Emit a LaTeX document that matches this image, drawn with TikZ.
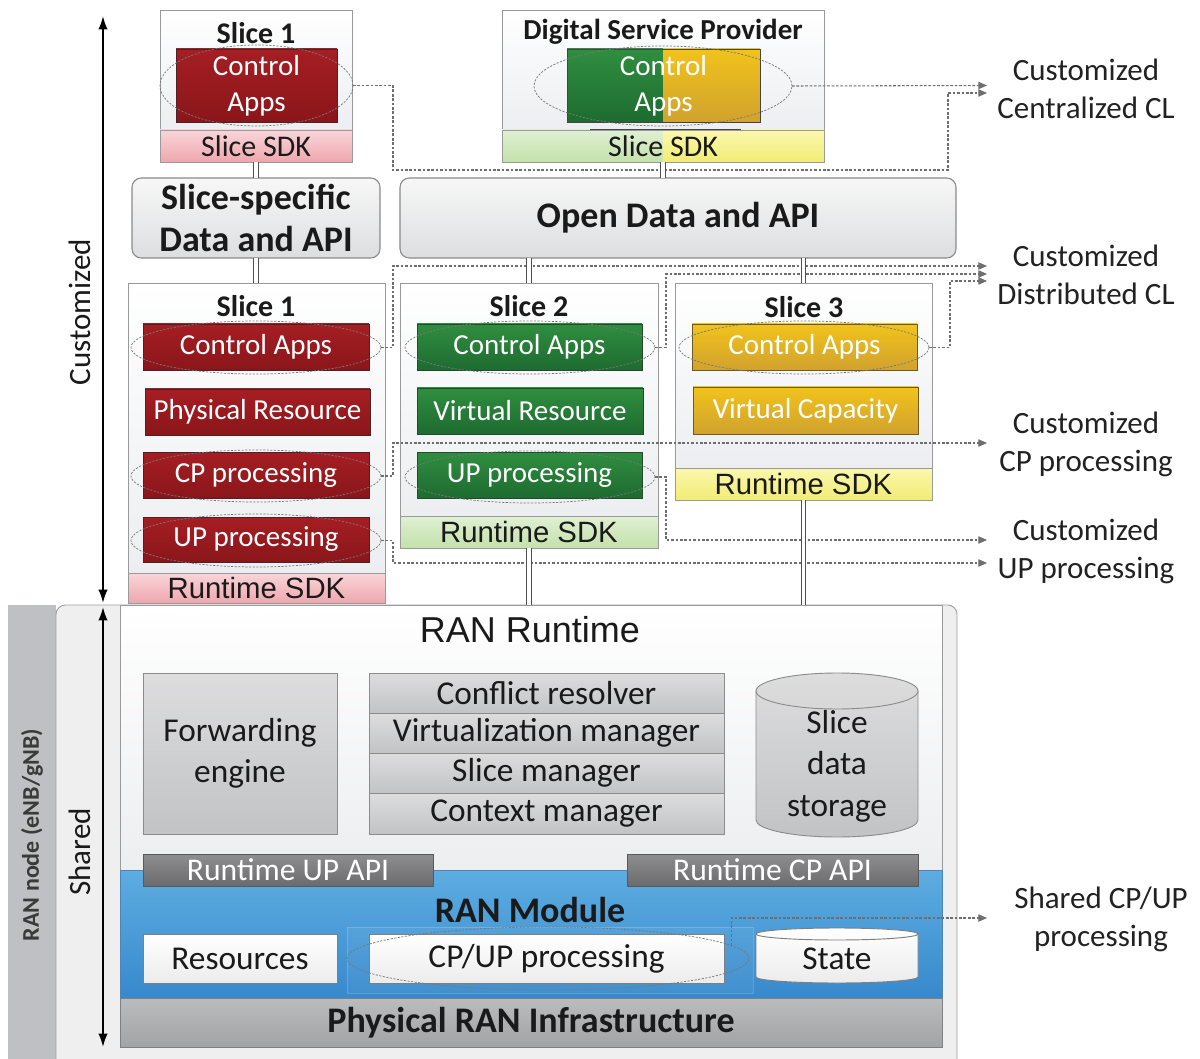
\documentclass[tikz,border=0pt]{standalone}
\usepackage{fontspec}
\setmainfont{Carlito}
\newfontfamily\arialf{Liberation Sans}
\usetikzlibrary{shapes.geometric,arrows.meta}
\newcommand{\fs}[2]{\fontsize{#1}{#2}\selectfont}
\newcommand{\bx}[7][]{%
  \pgfmathsetmacro\bxw{0.75*(#5-#3)}%
  \pgfmathsetmacro\bxh{0.75*(#6-#4)}%
  \node[bxs,#1,minimum width=\bxw pt,minimum height=\bxh pt] (#2) at ({(#3+#5)/2},{(#4+#6)/2}) {#7};}
\definecolor{txt}{HTML}{1A1A1A}
\definecolor{bordg}{HTML}{9A9A9A}
\definecolor{sliceB}{HTML}{ECEEF1}
\definecolor{redT}{HTML}{A51E23}
\definecolor{redB}{HTML}{8A161A}
\definecolor{redD}{HTML}{4E2224}
\definecolor{grnT}{HTML}{2F8E40}
\definecolor{grnB}{HTML}{1E6B30}
\definecolor{grnD}{HTML}{244A2B}
\definecolor{ylwT}{HTML}{F1C31B}
\definecolor{ylwB}{HTML}{D1A22E}
\definecolor{ylwD}{HTML}{6E5A22}
\definecolor{pinkT}{HTML}{F9D5D9}
\definecolor{pinkB}{HTML}{EEA7AE}
\definecolor{lgrnT}{HTML}{DFF0D3}
\definecolor{lgrnB}{HTML}{C4E1AB}
\definecolor{lylwT}{HTML}{FBF8AE}
\definecolor{lylwB}{HTML}{F1EC74}
\definecolor{apiT}{HTML}{F7F7F7}
\definecolor{apiB}{HTML}{DDDEE0}
\definecolor{apiD}{HTML}{8A8A8A}
\definecolor{gblkT}{HTML}{DDDDDE}
\definecolor{gblkB}{HTML}{C2C3C5}
\definecolor{gblkD}{HTML}{8C8C8C}
\definecolor{dapiT}{HTML}{8E8E91}
\definecolor{dapiB}{HTML}{6B6B6E}
\definecolor{dapiD}{HTML}{5A5A5A}
\definecolor{bluT}{HTML}{5DADE2}
\definecolor{bluB}{HTML}{3889CC}
\definecolor{bluD}{HTML}{4A86B8}
\definecolor{infT}{HTML}{BBBCBE}
\definecolor{infB}{HTML}{A2A3A5}
\definecolor{infD}{HTML}{808080}
\definecolor{band}{HTML}{BFC0C3}
\definecolor{outerF}{HTML}{EFEFF0}
\definecolor{outerD}{HTML}{A0A0A0}
\definecolor{rtB}{HTML}{EDEEF0}
\definecolor{dotc}{HTML}{6E6E6E}
\definecolor{ellc}{HTML}{787878}
\definecolor{dblc}{HTML}{505050}
\definecolor{labc}{HTML}{222222}
\definecolor{ranT}{HTML}{3A3A3A}
\definecolor{wbB}{HTML}{ECECEC}
\definecolor{wbD}{HTML}{7F7F7F}
\definecolor{ctrD}{HTML}{444444}
\begin{document}
\begin{tikzpicture}[x=0.75pt,y=-0.75pt,
  every node/.style={text=txt},
  bxs/.style={inner sep=0pt, outer sep=0pt, align=center},
  slicebox/.style={draw=bordg, line width=0.7pt, top color=white, bottom color=sliceB},
  whtxt/.style={text=white, font=\fs{21.75}{27}},
  redbx/.style={draw=redD, line width=0.7pt, top color=redT, bottom color=redB, whtxt},
  grnbx/.style={draw=grnD, line width=0.7pt, top color=grnT, bottom color=grnB, whtxt},
  ylwbx/.style={draw=ylwD, line width=0.7pt, top color=ylwT, bottom color=ylwB, whtxt},
  sdkfont/.style={font=\arialf\fs{22}{26}},
  pinksdk/.style={draw=bordg, line width=0.7pt, top color=pinkT, bottom color=pinkB},
  lgrnsdk/.style={draw=bordg, line width=0.7pt, top color=lgrnT, bottom color=lgrnB},
  lylwsdk/.style={draw=bordg, line width=0.7pt, top color=lylwT, bottom color=lylwB},
  title/.style={font=\bfseries\fs{22.5}{27}},
  apibox/.style={draw=apiD, line width=0.8pt, rounded corners=7pt, top color=apiT, bottom color=apiB, font=\bfseries\fs{27}{32}},
  gblk/.style={draw=gblkD, line width=0.7pt, top color=gblkT, bottom color=gblkB, font=\fs{25}{31}},
  dapi/.style={draw=dapiD, line width=0.7pt, top color=dapiT, bottom color=dapiB, text=white, font=\fs{23.7}{28}},
  wbx/.style={draw=wbD, line width=0.7pt, top color=white, bottom color=wbB, font=\fs{25}{30}},
  ell/.style={ellipse, draw=ellc, dash pattern=on 1.6pt off 1.1pt, line width=0.55pt},
  dl/.style={draw=dotc, line width=0.8pt, dash pattern=on 2pt off 1.3pt, -{Triangle[length=6.5pt,width=5.5pt]}},
  dbl/.style={draw=dblc, line width=0.9pt, double=white, double distance=2.4pt},
  lab/.style={font=\fs{23.25}{28.5}, align=center, text=labc},
  bigar/.style={line width=1.4pt, {Latex[length=10pt,width=7pt]}-{Latex[length=10pt,width=7pt]}},
]
\useasboundingbox (0,0) rectangle (1200,1059);
\clip (0,0) rectangle (1200,1059);
\fill[white] (0,0) rectangle (1200,1059);

% ---------- lower shared part ----------
\fill[band] (8,605) rectangle (56,1070);
\node[rotate=90, font=\bfseries\fs{18}{22}, text=ranT] (rann) at (32,835) {RAN node (eNB/gNB)};
\bx[draw=outerD, fill=outerF, rounded corners=7pt, line width=0.7pt]{ranode}{56}{605}{957}{1075}{}
\bx[draw=bordg, top color=white, bottom color=rtB, line width=0.7pt]{rt}{120}{605}{942}{870}{}
\node[font=\arialf\fs{27}{30}] (rttitle) at (530,630) {RAN Runtime};
\bx[draw=bluD, top color=bluT, bottom color=bluB, line width=0.7pt]{ranmod}{120}{870}{942}{998}{}
\node[font=\bfseries\fs{27}{30}] (rmtitle) at (530,910) {RAN Module};
\bx[draw=infD, top color=infT, bottom color=infB, line width=0.7pt, font=\bfseries\fs{27}{30}]{phy}{120}{998}{942}{1047}{Physical RAN Infrastructure}

\bx[gblk]{fwd}{143}{673}{337}{834}{Forwarding\\engine}
\bx[gblk]{cr}{369}{673}{724}{713}{Conflict resolver}
\bx[gblk]{vm}{369}{713}{724}{753}{Virtualization manager}
\bx[gblk]{sm}{369}{753}{724}{793}{Slice manager}
\bx[gblk]{cm}{369}{793}{724}{834}{Context manager}

% slice data storage cylinder
\path[draw=gblkD, line width=0.7pt, top color=gblkT, bottom color=gblkB]
  (756,691) -- (756,820) arc[start angle=180,end angle=360,x radius=60.75pt,y radius=12.75pt]
  -- (918,691) arc[start angle=0,end angle=180,x radius=60.75pt,y radius=13.5pt] -- cycle;
\draw[gblkD, line width=0.7pt] (756,691) arc[start angle=180,end angle=360,x radius=60.75pt,y radius=13.5pt];
\node[font=\fs{25}{31}, align=center] (sds) at (837,766) {Slice\\data\\storage};

\bx[dapi]{upapi}{143}{854}{433}{886}{Runtime UP API}
\bx[dapi]{cpapi}{627}{854}{918}{886}{Runtime CP API}

\bx[draw=white, draw opacity=0.18, fill=white, fill opacity=0.05, line width=0.6pt]{grp}{347}{927}{753}{993}{}
\bx[wbx]{res}{143}{934}{337}{983}{Resources}
\bx[wbx]{cpup}{369}{934}{724}{983}{CP/UP processing}
\bx[ell]{ecu}{347}{927}{749}{990}{}
% state cylinder
\path[draw=wbD, line width=0.7pt, top color=white, bottom color=wbB]
  (756,934) -- (756,977) arc[start angle=180,end angle=360,x radius=60.75pt,y radius=4.5pt]
  -- (918,934) arc[start angle=0,end angle=180,x radius=60.75pt,y radius=4.5pt] -- cycle;
\draw[wbD, line width=0.7pt] (756,934) arc[start angle=180,end angle=360,x radius=60.75pt,y radius=4.5pt];
\node[font=\fs{25}{30}] (state) at (837,959) {State};

% ---------- top part ----------
% slice 1 (top)
\bx[slicebox]{s1top}{160}{10}{352}{130}{}
\bx[pinksdk, font=\fs{22.5}{26}]{s1tsdk}{160}{130}{352}{162}{Slice SDK}
\node[title] (s1ttitle) at (256,33) {Slice 1};
\bx[redbx]{s1tca}{176}{49}{337}{122}{Control\\Apps}
\bx[ell]{e1t}{160}{45}{353}{126}{}

% digital service provider
\bx[slicebox]{dsp}{502}{10}{824}{130}{}
\fill[top color=lgrnT, bottom color=lgrnB] (502,130) rectangle (663,162);
\fill[top color=lylwT, bottom color=lylwB] (663,130) rectangle (824,162);
\bx[draw=bordg, line width=0.7pt, font=\fs{22.5}{26}]{dspsdk}{502}{130}{824}{162}{Slice SDK}
\node[font=\bfseries\fs{21.75}{26}] (dspt) at (663,32) {Digital Service Provider};
\fill[top color=grnT, bottom color=grnB] (567,49) rectangle (663,122);
\fill[top color=ylwT, bottom color=ylwB] (663,49) rectangle (760,122);
\bx[draw=ctrD, line width=0.7pt, whtxt]{dspca}{567}{49}{760}{122}{Control\\Apps}
\bx[ell]{eD}{534}{46}{792}{126}{}
\draw[ctrD, line width=0.9pt] (590,129.5) -- (741,129.5);

% API boxes
\bx[apibox]{ssapi}{132}{178}{380}{258}{Slice-specific\\Data and API}
\bx[apibox]{odapi}{400}{178}{956}{258}{Open Data and API}

% slice 1
\bx[slicebox]{s1}{128}{283}{385}{573}{}
\bx[pinksdk, sdkfont]{s1sdk}{128}{573}{385}{603}{Runtime SDK}
\node[title] (s1title) at (256,306) {Slice 1};
\bx[redbx]{s1ca}{143}{324}{369}{370}{Control Apps}
\bx[redbx]{s1pr}{145}{389}{370}{435}{Physical Resource}
\bx[redbx]{s1cp}{143}{452}{369}{498}{CP processing}
\bx[redbx]{s1up}{143}{517}{369}{562}{UP processing}
\bx[ell]{e1ca}{131}{321}{381}{374}{}
\bx[ell]{e1cp}{131}{450}{381}{502}{}
\bx[ell]{e1up}{131}{514}{381}{567}{}

% slice 2
\bx[slicebox]{s2}{400}{283}{658}{516}{}
\bx[lgrnsdk, sdkfont]{s2sdk}{400}{516}{658}{548}{Runtime SDK}
\node[title] (s2title) at (529,306) {Slice 2};
\bx[grnbx]{s2ca}{417}{324}{642}{370}{Control Apps}
\bx[grnbx]{s2vr}{417}{388}{643}{434}{Virtual Resource}
\bx[grnbx]{s2up}{417}{452}{642}{498}{UP processing}
\bx[ell]{e2ca}{405}{321}{655}{374}{}
\bx[ell]{e2up}{405}{451}{655}{503}{}

% slice 3
\bx[slicebox]{s3}{675}{283}{932}{468}{}
\bx[lylwsdk, sdkfont]{s3sdk}{675}{468}{932}{500}{Runtime SDK}
\node[title] (s3title) at (804,307) {Slice 3};
\bx[ylwbx]{s3ca}{692}{324}{917}{370}{Control Apps}
\bx[ylwbx]{s3vc}{693}{387}{918}{434}{Virtual Capacity}
\bx[ell]{e3ca}{679}{321}{929}{374}{}

% ---------- labels on the right ----------
\coordinate (cen1) at (987,85.5);
\coordinate (cen2) at (987,93);
\coordinate (dist1) at (987,266);
\coordinate (dist2) at (987,274);
\coordinate (dist3) at (987,281);
\coordinate (cpl) at (987,443);
\coordinate (upl1) at (987,540);
\coordinate (upl2) at (987,563);
\coordinate (shl) at (987,918);
\node[lab] (lcen) at (1086,89) {Customized\\Centralized CL};
\node[lab] (ldist) at (1086,275) {Customized\\Distributed CL};
\node[lab] (lcp) at (1086,444) {Customized\\CP processing};
\node[lab] (lup) at (1086,551.5) {Customized\\UP processing};
\node[lab] (lsh) at (1101,919) {Shared CP/UP\\processing};

% ---------- dotted connectors ----------
\draw[dl] (eD.east) -- (cen1);
\draw[dl] (e1t.east) -- (393,85.5) |- (948,170) |- (cen2);
\draw[dl] (e1ca.east) -| (393,266) -- (dist1);
\draw[dl] (e2ca.east) -| (666,274) -- (dist2);
\draw[dl] (e3ca.east) -| (950,281) -- (dist3);
\draw[dl] (e1cp.east) -| (393,443) -- (cpl);
\draw[dl] (e2up.east) -| (666,540) -- (upl1);
\draw[dl] (e1up.east) -| (393,563) -- (upl2);
\draw[dl] (ecu.4) |- (shl);

% ---------- double connectors ----------
\draw[dbl] (s1tsdk.south) -- (ssapi.north);
\draw[dbl] (ssapi.south) -- (ssapi.south |- s1.north);
\draw[dbl] (dspsdk.south) -- (dspsdk.south |- odapi.north);
\draw[dbl] (s2.north |- odapi.south) -- (s2.north);
\draw[dbl] (s3.north |- odapi.south) -- (s3.north);
\draw[dbl] (s2sdk.south) -- (s2sdk.south |- rt.north);
\draw[dbl] (s3sdk.south) -- (s3sdk.south |- rt.north);

% ---------- left scale ----------
\coordinate (atop) at (103,16);
\coordinate (amid1) at (103,603);
\coordinate (amid2) at (103,607);
\coordinate (abot) at (103,1047);
\draw[bigar] (atop) -- (amid1);
\draw[bigar] (amid2) -- (abot);
\node[rotate=90, font=\fs{23.25}{28}] (custl) at (80,312) {Customized};
\node[rotate=90, font=\fs{23.25}{28}] (sharl) at (80,852) {Shared};
\end{tikzpicture}
\end{document}
